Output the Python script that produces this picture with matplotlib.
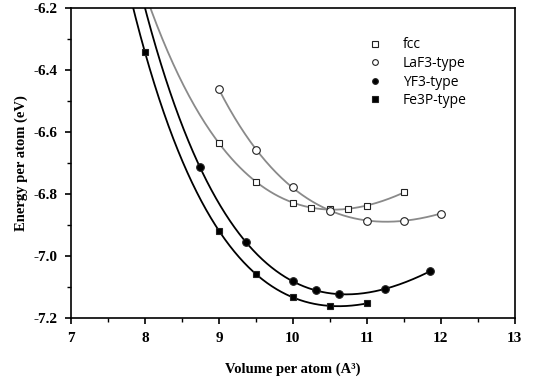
import matplotlib
matplotlib.use('Agg')
import matplotlib.pyplot as plt
import numpy as np
from matplotlib.ticker import MultipleLocator

# data (volume in A^3, energy in eV)
fcc_v = [9.0, 9.5, 10.0, 10.25, 10.5, 10.75, 11.0, 11.5]
fcc_e = [-6.636, -6.760, -6.828, -6.845, -6.849, -6.847, -6.838, -6.795]

laf3_v = [9.0, 9.5, 10.0, 10.5, 11.0, 11.5, 12.0]
laf3_e = [-6.462, -6.657, -6.778, -6.854, -6.886, -6.886, -6.863]

yf3_v = [8.74, 9.37, 10.0, 10.31, 10.62, 11.24, 11.86]
yf3_e = [-6.712, -6.956, -7.082, -7.111, -7.124, -7.105, -7.049]

fe3p_v = [8.0, 9.0, 9.5, 10.0, 10.5, 11.0]
fe3p_e = [-6.343, -6.918, -7.059, -7.133, -7.161, -7.153]

grey = '#8a8a8a'


def eos_curve(v, e, vmin, vmax):
    # Birch-Murnaghan style fit: cubic polynomial in V^(-2/3)
    x = np.asarray(v) ** (-2.0 / 3.0)
    coef = np.polyfit(x, e, 3)
    vv = np.linspace(vmin, vmax, 300)
    return vv, np.polyval(coef, vv ** (-2.0 / 3.0))


fig = plt.figure(figsize=(5.34, 3.82), dpi=100)
ax = fig.add_axes([0.133, 0.1675, 0.831, 0.8115])

series = [
    (fcc_v, fcc_e, 7.2, 11.5, grey, 's', 'white', 'fcc'),
    (laf3_v, laf3_e, 9.0, 12.0, grey, 'o', 'white', 'LaF3-type'),
    (yf3_v, yf3_e, 7.2, 11.86, 'black', 'o', 'black', 'YF3-type'),
    (fe3p_v, fe3p_e, 7.2, 11.0, 'black', 's', 'black', 'Fe3P-type'),
]

for v, e, lo, hi, col, mk, fc, name in series:
    vv, ee = eos_curve(v, e, lo, hi)
    ax.plot(vv, ee, color=col, lw=1.3, zorder=2)
    ax.plot(v, e, linestyle='none', marker=mk, markersize=5.5 if mk == 'o' else 5,
            markerfacecolor=fc, markeredgecolor='#222222', markeredgewidth=0.8,
            zorder=3, label=name)

ax.set_xlim(7, 13)
ax.set_ylim(-7.2, -6.2)
ax.xaxis.set_major_locator(MultipleLocator(1))
ax.xaxis.set_minor_locator(MultipleLocator(0.5))
ax.yaxis.set_major_locator(MultipleLocator(0.2))
ax.yaxis.set_minor_locator(MultipleLocator(0.1))
ax.yaxis.set_major_formatter(matplotlib.ticker.FuncFormatter(lambda y, p: '%.1f' % y))
ax.tick_params(which='both', direction='out', top=False, right=False)
ax.tick_params(which='major', length=4, width=1.2, pad=6)
ax.tick_params(which='minor', length=3, width=1.0)
for s in ax.spines.values():
    s.set_linewidth(1.2)
for lab in ax.get_xticklabels() + ax.get_yticklabels():
    lab.set_fontfamily('Liberation Serif')
    lab.set_fontweight('bold')
    lab.set_fontsize(11)

ax.set_xlabel('Volume per atom (A³)', fontfamily='Liberation Serif',
              fontweight='bold', fontsize=10.5, labelpad=13)
ax.set_ylabel('Energy per atom (eV)', fontfamily='Liberation Serif',
              fontweight='bold', fontsize=10.5, labelpad=4)

leg = ax.legend(loc='upper left', bbox_to_anchor=(0.669, 0.905), frameon=False,
                borderpad=0, borderaxespad=0,
                prop={'family': 'Open Sans', 'size': 10}, handletextpad=1.5,
                labelspacing=0.26, handlelength=1.0, markerscale=0.75)

fig.savefig('out.png', dpi=100)
plt.close(fig)
